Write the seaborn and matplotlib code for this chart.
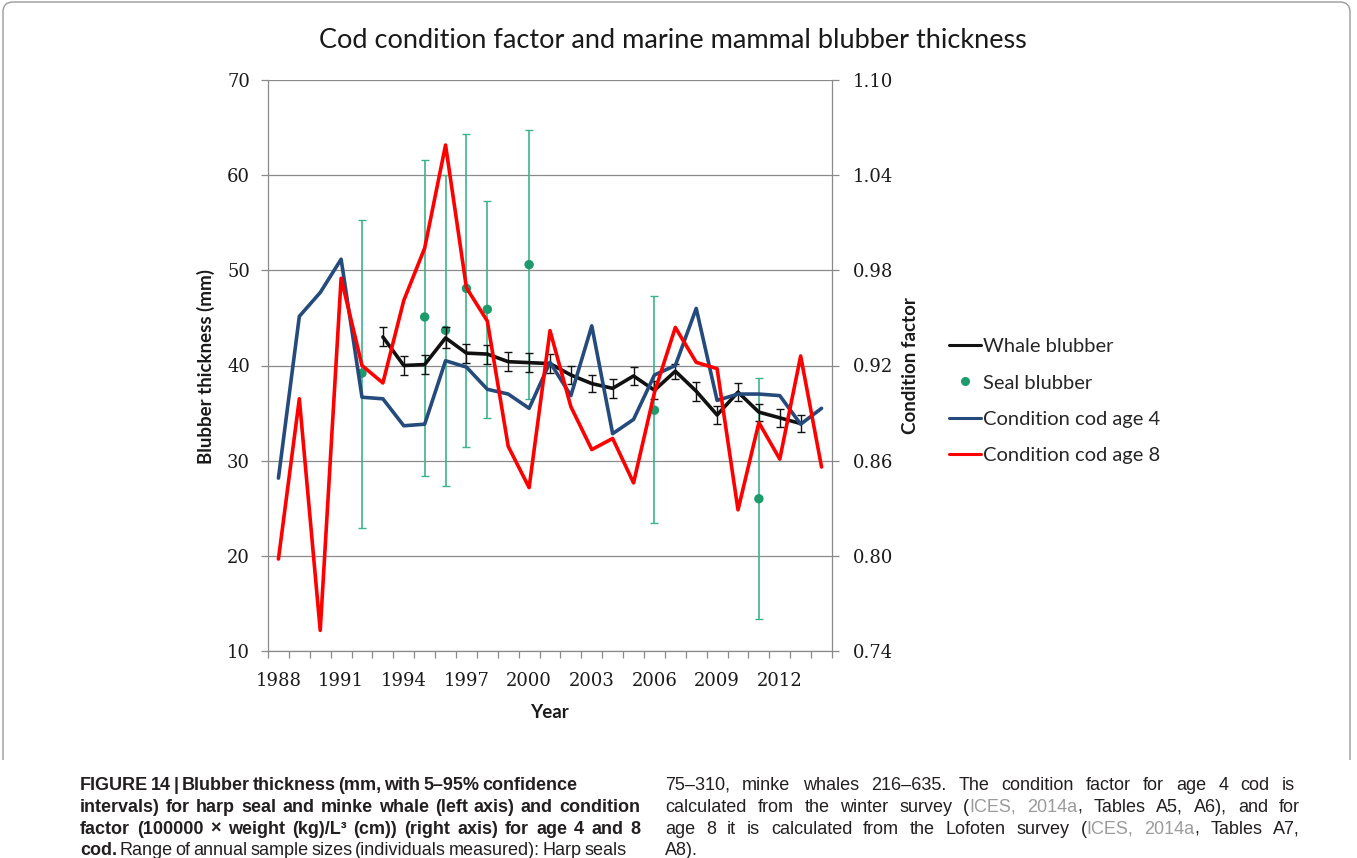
import matplotlib
matplotlib.use("Agg")
import matplotlib.pyplot as plt
from matplotlib import font_manager
from matplotlib.lines import Line2D
from matplotlib.path import Path
from matplotlib.patches import PathPatch
import seaborn as sns
import pandas as pd

# ---------------- data ----------------
years = list(range(1988, 2015))
cod_age4 = [0.849, 0.951, 0.966, 0.987, 0.900, 0.899, 0.882, 0.883, 0.923, 0.919,
            0.905, 0.902, 0.893, 0.922, 0.901, 0.945, 0.877, 0.886, 0.914, 0.920,
            0.956, 0.898, 0.902, 0.902, 0.901, 0.883, 0.893]
cod_age8 = [0.798, 0.899, 0.753, 0.975, 0.920, 0.909, 0.961, 0.994, 1.059, 0.969,
            0.948, 0.869, 0.843, 0.942, 0.894, 0.867, 0.874, 0.846, 0.903, 0.944,
            0.922, 0.918, 0.829, 0.884, 0.861, 0.926, 0.856]

whale_years = list(range(1993, 2014))
whale_mm = [43.0, 40.0, 40.1, 42.9, 41.3, 41.2, 40.4, 40.3, 40.2, 39.0, 38.1,
            37.6, 38.9, 37.4, 39.4, 37.3, 34.8, 37.2, 35.1, 34.5, 33.9]
whale_ci = [1.0, 0.95, 1.0, 1.1, 1.0, 1.0, 1.0, 1.0, 1.0, 0.95, 0.93,
            1.0, 0.93, 0.93, 0.8, 1.0, 0.9, 0.95, 0.9, 0.93, 0.93]

seal_years = [1992, 1995, 1996, 1997, 1998, 2000, 2006, 2011]
seal_mm = [39.2, 45.1, 43.7, 48.1, 45.9, 50.6, 35.3, 26.0]
seal_low = [22.9, 28.4, 27.3, 31.4, 34.5, 36.5, 23.5, 13.4]
seal_high = [55.3, 61.6, 60.0, 64.3, 57.3, 64.7, 47.3, 38.7]

year_labels = [1988, 1991, 1994, 1997, 2000, 2003, 2006, 2009, 2012]
mm_ticks = [10, 20, 30, 40, 50, 60, 70]
cf_ticks = [0.74, 0.80, 0.86, 0.92, 0.98, 1.04, 1.10]

title = "Cod condition factor and marine mammal blubber thickness"
legend_labels = ["Whale blubber", "Seal blubber", "Condition cod age 4", "Condition cod age 8"]

# ---------------- style ----------------
sns.set_style("white")


def pick(*names):
    for n in names:
        try:
            found = font_manager.findfont(font_manager.FontProperties(family=n),
                                          fallback_to_default=False)
            if found:
                return n
        except ValueError:
            continue
    return "DejaVu Sans"


SANS = pick("Lato", "Open Sans", "DejaVu Sans")
SERIF = pick("DejaVu Serif", "Liberation Serif")
CAPTION = pick("Liberation Sans", "DejaVu Sans")
plt.rcParams["font.family"] = [SANS, "DejaVu Sans"]

BLACK = "#111111"
NAVY = "#254a7c"
RED = "#ff0000"
GREEN_PT = "#1e9b6c"
GREEN_BAR = "#3db38a"
GRID = "#8a8a8a"
TXT = "#1a1a1a"

W, H = 1357, 858
fig = plt.figure(figsize=(W / 100, H / 100), dpi=100)
fig.patch.set_facecolor("white")

L, R, T, B = 268, 832, 80, 651
ax = fig.add_axes([L / W, 1 - B / H, (R - L) / W, (B - T) / H])
ax.set_facecolor("white")

# seal blubber: means with 5-95% intervals
seal = pd.DataFrame({"year": seal_years, "mm": seal_mm, "lo": seal_low, "hi": seal_high})
ax.errorbar(seal["year"], seal["mm"],
            yerr=[seal["mm"] - seal["lo"], seal["hi"] - seal["mm"]],
            fmt="none", ecolor=GREEN_BAR, elinewidth=1.2, capsize=3.2, capthick=1.0, zorder=3)
sns.scatterplot(data=seal, x="year", y="mm", ax=ax, color=GREEN_PT, s=46,
                edgecolor="none", zorder=4, legend=False)

# whale blubber line with intervals
whale = pd.DataFrame({"year": whale_years, "mm": whale_mm, "ci": whale_ci})
sns.lineplot(data=whale, x="year", y="mm", ax=ax, color=BLACK, lw=2.6, zorder=5,
             legend=False)
ax.errorbar(whale["year"], whale["mm"], yerr=whale["ci"], fmt="none", ecolor=BLACK,
            elinewidth=1.0, capsize=3.2, capthick=1.0, zorder=5)

ax.set_xlim(1987.5, 2014.5)
ax.set_ylim(10, 70)
ax.set_yticks(mm_ticks)
ax.set_xticks(year_labels)
ax.set_xticks([y - 0.5 for y in years] + [years[-1] + 0.5], minor=True)
ax.set_xlabel("")
ax.set_ylabel("")
ax.grid(axis="y", color=GRID, lw=0.9)
ax.grid(axis="x", visible=False)
ax.set_axisbelow(True)
for side in ["top", "right"]:
    ax.spines[side].set_visible(False)
for side in ["left", "bottom"]:
    ax.spines[side].set_color(GRID)
    ax.spines[side].set_linewidth(0.9)
ax.tick_params(axis="y", which="major", length=5, width=0.9, color=GRID, pad=8,
               labelsize=13, labelcolor=TXT, left=True)
ax.tick_params(axis="x", which="major", length=0, pad=15, labelsize=13, labelcolor=TXT)
ax.tick_params(axis="x", which="minor", length=5, width=0.9, color=GRID, bottom=True,
               direction="out")
for lab in ax.get_xticklabels() + ax.get_yticklabels():
    lab.set_family(SERIF)

# cod condition on the secondary axis
ax2 = ax.twinx()
cod = pd.DataFrame({"year": years, "age4": cod_age4, "age8": cod_age8})
sns.lineplot(data=cod, x="year", y="age4", ax=ax2, color=NAVY, lw=2.6, legend=False)
sns.lineplot(data=cod, x="year", y="age8", ax=ax2, color=RED, lw=2.6, legend=False)
ax2.set_ylim(0.74, 1.10)
ax2.set_yticks(cf_ticks)
ax2.set_yticklabels([f"{v:.2f}" for v in cf_ticks])
ax2.set_ylabel("")
ax2.set_xlabel("")
ax2.grid(False)
for side in ["top", "left", "bottom"]:
    ax2.spines[side].set_visible(False)
ax2.spines["right"].set_visible(True)
ax2.spines["right"].set_color(GRID)
ax2.spines["right"].set_linewidth(0.9)
ax2.tick_params(axis="y", which="major", length=5, width=0.9, color=GRID, pad=10,
                labelsize=13, labelcolor=TXT, right=True)
for lab in ax2.get_yticklabels():
    lab.set_family(SERIF)


def fx(px):
    return px / W


def fy(py):
    return 1 - py / H


# titles and axis names
fig.text(fx(673), fy(40), title, ha="center", va="center", fontsize=19.5, color=TXT)
fig.text(fx(206), fy(366), "Blubber thickness (mm)", rotation=90, ha="center",
         va="center", fontsize=13.5, fontweight="bold", color=TXT)
fig.text(fx(911), fy(366), "Condition factor", rotation=90, ha="center",
         va="center", fontsize=13.5, fontweight="bold", color=TXT)
fig.text(fx(549), fy(712), "Year", ha="center", va="center", fontsize=13.5,
         fontweight="bold", color=TXT)

# legend
handles = [Line2D([], [], color=BLACK, lw=2.2),
           Line2D([], [], ls="none", marker="o", color=GREEN_PT, ms=5.5),
           Line2D([], [], color=NAVY, lw=2.2),
           Line2D([], [], color=RED, lw=2.2)]
fig.legend(handles, legend_labels, loc="upper left", bbox_to_anchor=(fx(949), fy(338)),
           frameon=False, prop={"family": SANS, "size": 14.5}, handlelength=1.6,
           handletextpad=0.1, labelspacing=0.96, borderpad=0, borderaxespad=0)

# rounded frame around the chart panel
frame = Path([(3, 760), (3, 12), (3, 2), (13, 2), (1340, 2), (1350, 2), (1350, 12), (1350, 760)],
             [Path.MOVETO, Path.LINETO, Path.CURVE3, Path.CURVE3, Path.LINETO,
              Path.CURVE3, Path.CURVE3, Path.LINETO])
frame = Path([(fx(x), fy(y)) for x, y in frame.vertices], frame.codes)
fig.add_artist(PathPatch(frame, transform=fig.transFigure, fill=False,
                         edgecolor="#9a9a9a", lw=1.0))

# ---------------- caption ----------------
renderer = fig.canvas.get_renderer()
CAP_SIZE = 13
CAP_COL = "#231f20"
LINK_COL = "#9b9b9b"
STYLE = {"b": ("bold", CAP_COL), "r": ("normal", CAP_COL), "g": ("normal", LINK_COL)}
_cache = {}


def measure(s, weight):
    key = (s, weight)
    if key not in _cache:
        t = fig.text(0, 0, s, fontsize=CAP_SIZE, fontweight=weight, family=CAPTION)
        _cache[key] = t.get_window_extent(renderer).width
        t.remove()
    return _cache[key]


def split_words(runs):
    words = [[]]
    for text, style in runs:
        for i, part in enumerate(text.split(" ")):
            if i > 0:
                words.append([])
            if part:
                words[-1].append((part, style))
    return [w for w in words if w]


def caption_line(x0, x1, y, runs, justify=True):
    words = split_words(runs)
    widths = [sum(measure(s, STYLE[st][0]) for s, st in w) for w in words]
    space = measure("a a", "normal") - measure("aa", "normal")
    gap = space
    if justify and len(words) > 1:
        gap = max(space * 0.55, (x1 - x0 - sum(widths)) / (len(words) - 1))
    x = x0
    for w, width in zip(words, widths):
        xx = x
        for s, st in w:
            weight, col = STYLE[st]
            fig.text(fx(xx), fy(y), s, fontsize=CAP_SIZE, fontweight=weight, color=col,
                     family=CAPTION, va="baseline", ha="left")
            xx += measure(s, weight)
        x += width + gap


left_lines = [
    ([("FIGURE 14 | Blubber thickness (mm, with 5–95% confidence", "b")], 577, True),
    ([("intervals) for harp seal and minke whale (left axis) and condition", "b")], 640, True),
    ([("factor (100000 × weight (kg)/L³ (cm)) (right axis) for age 4 and 8", "b")], 640, True),
    ([("cod.", "b"), (" Range of annual sample sizes (individuals measured): Harp seals", "r")],
     614, True),
]
right_lines = [
    ([("75–310, minke whales 216–635. The condition factor for age 4 cod is", "r")], 1295, True),
    ([("calculated from the winter survey (", "r"), ("ICES, 2014a", "g"),
      (", Tables A5, A6), and for", "r")], 1300, True),
    ([("age 8 it is calculated from the Lofoten survey (", "r"), ("ICES, 2014a", "g"),
      (", Tables A7,", "r")], 1300, True),
    ([("A8).", "r")], 700, False),
]
baselines = [790, 812, 834, 855]
for (runs, x1, just), yb in zip(left_lines, baselines):
    caption_line(80, x1, yb, runs, justify=just)
for (runs, x1, just), yb in zip(right_lines, baselines):
    caption_line(665, x1, yb, runs, justify=just)

fig.savefig("out.png", dpi=100, facecolor="white")
